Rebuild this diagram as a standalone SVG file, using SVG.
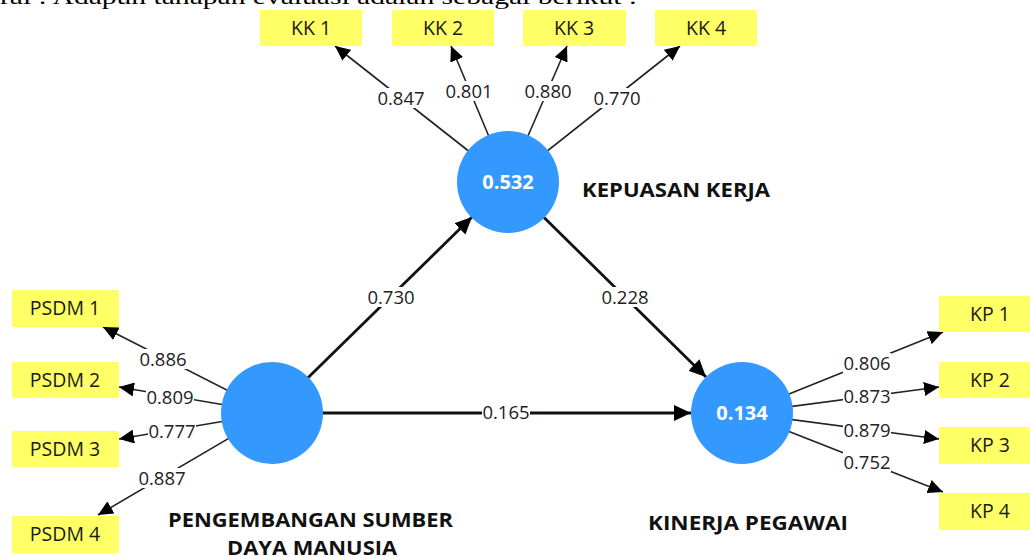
<svg xmlns="http://www.w3.org/2000/svg" width="1030" height="557" viewBox="0 0 1030 557">
<style>
.box{fill:#FFFF66;}
.ind{font-family:"Open Sans","Liberation Sans",sans-serif;font-size:19.5px;fill:#1a1a1a;text-anchor:middle;}
.lv{fill:#3399FF;}
.lvv{font-family:"Open Sans","Liberation Sans",sans-serif;font-size:20px;font-weight:bold;fill:#ffffff;text-anchor:middle;}
.lvn{font-family:"Open Sans","Liberation Sans",sans-serif;font-size:20px;font-weight:bold;fill:#111;}
.thin{stroke:#222;stroke-width:1.6;fill:none;marker-end:url(#ah);}
.thick{stroke:#111;stroke-width:2.8;fill:none;marker-end:url(#ahb);}
.bg{fill:#fff;}
.lbl{font-family:"Open Sans","Liberation Sans",sans-serif;font-size:18.5px;fill:#222;text-anchor:middle;}
.top{font-family:"Liberation Serif",serif;font-size:21px;fill:#000;}
</style>
<defs>
<marker id="ah" markerUnits="userSpaceOnUse" markerWidth="16" markerHeight="14" refX="15" refY="7" orient="auto">
<path d="M0,0 L15,7 L0,14 z" fill="#000"/>
</marker>
<marker id="ahb" markerUnits="userSpaceOnUse" markerWidth="18" markerHeight="16" refX="17" refY="8" orient="auto">
<path d="M0,0 L17,8 L0,16 z" fill="#000"/>
</marker>
</defs>
<rect width="1030" height="557" fill="#fff"/>
<text class="top" x="0" y="4" textLength="637" lengthAdjust="spacingAndGlyphs">rai : Adapun tahapan evaluasi adalah sebagai berikut :</text>

<g id="connectors">
<line class="thin" x1="508" y1="182" x2="335" y2="46"/>
<line class="thin" x1="508" y1="182" x2="451" y2="46"/>
<line class="thin" x1="508" y1="182" x2="567" y2="46"/>
<line class="thin" x1="508" y1="182" x2="680" y2="46"/>
<line class="thin" x1="272" y1="413" x2="103" y2="327"/>
<line class="thin" x1="272" y1="413" x2="119" y2="387"/>
<line class="thin" x1="272" y1="413" x2="119" y2="439"/>
<line class="thin" x1="272" y1="413" x2="98" y2="515"/>
<line class="thin" x1="742" y1="413" x2="943" y2="332"/>
<line class="thin" x1="742" y1="413" x2="939" y2="387"/>
<line class="thin" x1="742" y1="413" x2="939" y2="439"/>
<line class="thin" x1="742" y1="413" x2="943" y2="492"/>
<line class="thick" x1="272" y1="413" x2="472" y2="217"/>
<line class="thick" x1="508" y1="182" x2="706" y2="377"/>
<line class="thick" x1="272" y1="413" x2="691" y2="413"/>
<rect class="bg" x="377" y="88" width="48" height="20"/><text class="lbl" x="401" y="105">0.847</text>
<rect class="bg" x="445" y="81" width="48" height="20"/><text class="lbl" x="469" y="98">0.801</text>
<rect class="bg" x="524" y="81" width="48" height="20"/><text class="lbl" x="548" y="98">0.880</text>
<rect class="bg" x="593" y="88" width="48" height="20"/><text class="lbl" x="617" y="105">0.770</text>
<rect class="bg" x="139" y="349" width="48" height="20"/><text class="lbl" x="163" y="366">0.886</text>
<rect class="bg" x="146" y="387" width="48" height="20"/><text class="lbl" x="170" y="404">0.809</text>
<rect class="bg" x="148" y="421" width="48" height="20"/><text class="lbl" x="172" y="438">0.777</text>
<rect class="bg" x="138" y="468" width="48" height="20"/><text class="lbl" x="162" y="485">0.887</text>
<rect class="bg" x="843" y="353" width="48" height="20"/><text class="lbl" x="867" y="370">0.806</text>
<rect class="bg" x="843" y="386" width="48" height="20"/><text class="lbl" x="867" y="403">0.873</text>
<rect class="bg" x="843" y="420" width="48" height="20"/><text class="lbl" x="867" y="437">0.879</text>
<rect class="bg" x="843" y="452" width="48" height="20"/><text class="lbl" x="867" y="469">0.752</text>
<rect class="bg" x="367" y="287" width="48" height="20"/><text class="lbl" x="391" y="304">0.730</text>
<rect class="bg" x="601" y="287" width="48" height="20"/><text class="lbl" x="625" y="304">0.228</text>
<rect class="bg" x="482" y="402" width="48" height="20"/><text class="lbl" x="506" y="419">0.165</text>
</g>

<g id="KK1"><rect class="box" x="260" y="10" width="102" height="36"/><text class="ind" x="311" y="35">KK 1</text></g>
<g id="KK2"><rect class="box" x="392" y="10" width="102" height="36"/><text class="ind" x="443" y="35">KK 2</text></g>
<g id="KK3"><rect class="box" x="523" y="10" width="103" height="36"/><text class="ind" x="574" y="35">KK 3</text></g>
<g id="KK4"><rect class="box" x="655" y="10" width="102" height="36"/><text class="ind" x="706" y="35">KK 4</text></g>

<g id="PSDM1"><rect class="box" x="12" y="290" width="107" height="37"/><text class="ind" x="65" y="315">PSDM 1</text></g>
<g id="PSDM2"><rect class="box" x="12" y="362" width="107" height="36"/><text class="ind" x="65" y="387">PSDM 2</text></g>
<g id="PSDM3"><rect class="box" x="12" y="431" width="107" height="36"/><text class="ind" x="65" y="456">PSDM 3</text></g>
<g id="PSDM4"><rect class="box" x="12" y="516" width="107" height="37"/><text class="ind" x="65" y="541">PSDM 4</text></g>

<g id="KP1"><rect class="box" x="939" y="296" width="102" height="36"/><text class="ind" x="990" y="321">KP 1</text></g>
<g id="KP2"><rect class="box" x="939" y="362" width="102" height="36"/><text class="ind" x="990" y="387">KP 2</text></g>
<g id="KP3"><rect class="box" x="939" y="427" width="102" height="37"/><text class="ind" x="990" y="452">KP 3</text></g>
<g id="KP4"><rect class="box" x="939" y="493" width="102" height="37"/><text class="ind" x="990" y="518">KP 4</text></g>

<g id="KepuasanKerja">
<circle class="lv" cx="508" cy="182" r="51"/>
<text class="lvv" x="508" y="189">0.532</text>
<text class="lvn" x="582" y="197" textLength="188" lengthAdjust="spacingAndGlyphs">KEPUASAN KERJA</text>
</g>
<g id="PSDM">
<circle class="lv" cx="272" cy="413" r="51"/>
<text class="lvn" x="168" y="527" textLength="285" lengthAdjust="spacingAndGlyphs">PENGEMBANGAN SUMBER</text>
<text class="lvn" x="227" y="555" textLength="170" lengthAdjust="spacingAndGlyphs">DAYA MANUSIA</text>
</g>
<g id="KinerjaPegawai">
<circle class="lv" cx="742" cy="413" r="51"/>
<text class="lvv" x="742" y="420">0.134</text>
<text class="lvn" x="648" y="530" textLength="200" lengthAdjust="spacingAndGlyphs">KINERJA PEGAWAI</text>
</g>
</svg>
